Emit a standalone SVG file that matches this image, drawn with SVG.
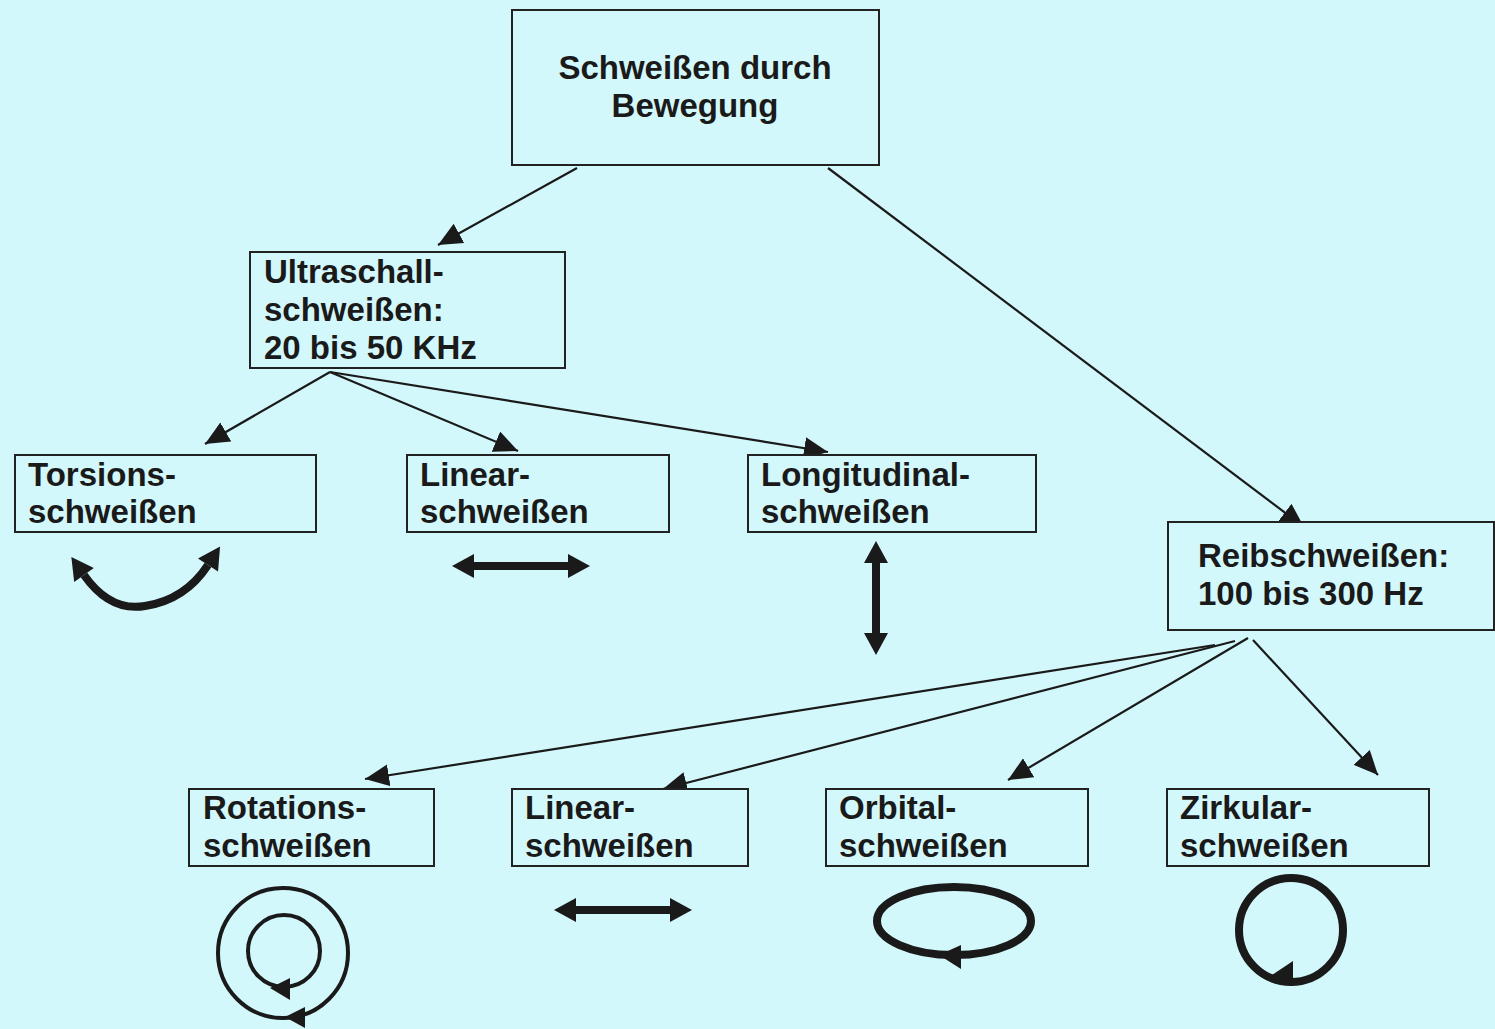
<svg xmlns="http://www.w3.org/2000/svg" width="1495" height="1029" viewBox="0 0 1495 1029">
<style>
.box{fill:#d3f8fc;stroke:#222;stroke-width:2}
.t{font-family:"Liberation Sans",Arial,sans-serif;font-weight:bold;font-size:33px;fill:#1a1a1a}
.c{stroke:#1a1a1a;stroke-width:2.2;fill:none}
.s{stroke:#1a1a1a;stroke-width:8;fill:none}
.s2{stroke:#1a1a1a;stroke-width:4;fill:none}
.h{fill:#1a1a1a}
</style>
<defs>
<marker id="a" markerUnits="userSpaceOnUse" markerWidth="26" markerHeight="22" refX="24" refY="11" orient="auto">
<path d="M0,0 L24,11 L0,22 Z" fill="#1a1a1a"/>
</marker>
<marker id="b" markerUnits="userSpaceOnUse" markerWidth="24" markerHeight="24" refX="0" refY="12" orient="auto-start-reverse" overflow="visible">
<path d="M0,0 L22,12 L0,24 Z" fill="#1a1a1a"/>
</marker>
</defs>
<rect width="1495" height="1029" fill="#d3f8fc"/>
<g id="connectors">
<line class="c" x1="577" y1="168" x2="438" y2="245" marker-end="url(#a)"/>
<line class="c" x1="828" y1="168" x2="1304" y2="527" marker-end="url(#a)"/>
<line class="c" x1="330" y1="372" x2="205" y2="444" marker-end="url(#a)"/>
<line class="c" x1="330" y1="372" x2="518" y2="451" marker-end="url(#a)"/>
<line class="c" x1="330" y1="372" x2="828" y2="452" marker-end="url(#a)"/>
<line class="c" x1="1215" y1="645" x2="365" y2="779" marker-end="url(#a)"/>
<line class="c" x1="1235" y1="641" x2="663" y2="789" marker-end="url(#a)"/>
<line class="c" x1="1248" y1="638" x2="1008" y2="780" marker-end="url(#a)"/>
<line class="c" x1="1253" y1="640" x2="1378" y2="775" marker-end="url(#a)"/>
</g>
<g id="n-top"><rect class="box" x="512" y="10" width="367" height="155"/>
<text class="t" x="695" y="79" text-anchor="middle">Schweißen durch</text>
<text class="t" x="695" y="117" text-anchor="middle">Bewegung</text></g>
<g id="n-ultra"><rect class="box" x="250" y="252" width="315" height="116"/>
<text class="t" x="264" y="283">Ultraschall-</text>
<text class="t" x="264" y="321">schweißen:</text>
<text class="t" x="264" y="359">20 bis 50 KHz</text></g>
<g id="n-torsion"><rect class="box" x="15" y="455" width="301" height="77"/>
<text class="t" x="28" y="486">Torsions-</text>
<text class="t" x="28" y="523">schweißen</text></g>
<g id="n-linear1"><rect class="box" x="407" y="455" width="262" height="77"/>
<text class="t" x="420" y="486">Linear-</text>
<text class="t" x="420" y="523">schweißen</text></g>
<g id="n-longi"><rect class="box" x="748" y="455" width="288" height="77"/>
<text class="t" x="761" y="486">Longitudinal-</text>
<text class="t" x="761" y="523">schweißen</text></g>
<g id="n-reib"><rect class="box" x="1168" y="522" width="326" height="108"/>
<text class="t" x="1198" y="567">Reibschweißen:</text>
<text class="t" x="1198" y="605">100 bis 300 Hz</text></g>
<g id="n-rot"><rect class="box" x="189" y="789" width="245" height="77"/>
<text class="t" x="203" y="819">Rotations-</text>
<text class="t" x="203" y="857">schweißen</text></g>
<g id="n-linear2"><rect class="box" x="512" y="789" width="236" height="77"/>
<text class="t" x="525" y="819">Linear-</text>
<text class="t" x="525" y="857">schweißen</text></g>
<g id="n-orbital"><rect class="box" x="826" y="789" width="262" height="77"/>
<text class="t" x="839" y="819">Orbital-</text>
<text class="t" x="839" y="857">schweißen</text></g>
<g id="n-zirk"><rect class="box" x="1167" y="789" width="262" height="77"/>
<text class="t" x="1180" y="819">Zirkular-</text>
<text class="t" x="1180" y="857">schweißen</text></g>
<g id="symbols">
<path class="s" d="M84,575 Q110,612 145,606 Q185,600 208,565" marker-start="url(#b)" marker-end="url(#b)"/>
<line class="s" x1="474" y1="566" x2="568" y2="566" marker-start="url(#b)" marker-end="url(#b)"/>
<line class="s" x1="876" y1="563" x2="876" y2="633" marker-start="url(#b)" marker-end="url(#b)"/>
<line class="s" x1="576" y1="910" x2="670" y2="910" marker-start="url(#b)" marker-end="url(#b)"/>
<circle class="s2" cx="283" cy="953" r="65"/>
<circle class="s2" cx="284" cy="951" r="36"/>
<path class="h" d="M285,1017 L305,1007 L305,1028 Z"/>
<path class="h" d="M270,988 L290,978 L290,1000 Z"/>
<ellipse class="s" cx="954" cy="921" rx="77" ry="34"/>
<path class="h" d="M939,955 L961,945 L961,969 Z"/>
<circle class="s" cx="1291" cy="930" r="52"/>
<path class="h" d="M1272,975 L1293,961 L1293,986 Z"/>
</g>
</svg>
